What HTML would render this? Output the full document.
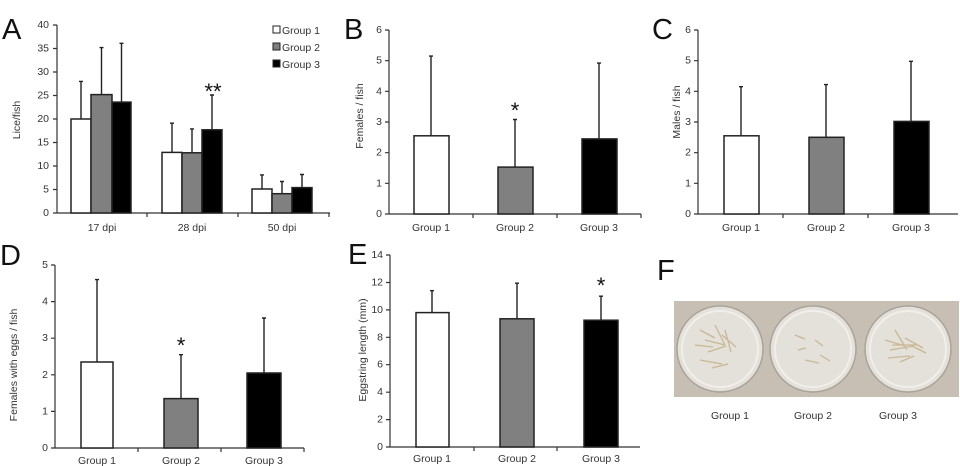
<!DOCTYPE html>
<html><head><meta charset="utf-8"><style>
html,body{margin:0;padding:0;background:#fff}
svg{display:block}
text{font-family:"Liberation Sans",Arial,sans-serif;fill:#333}
.t{font-size:10.5px}
.L{font-size:29px;fill:#111}
.ax{stroke:#333;stroke-width:1.2;fill:none}
.b{stroke:#222;stroke-width:1.5}
.e{stroke:#222;stroke-width:1.4}
</style></head><body>
<svg width="960" height="466" viewBox="0 0 960 466" xmlns="http://www.w3.org/2000/svg">
<!-- A -->
<text class="L" x="2" y="39">A</text>
<text class="t" x="20" y="120" transform="rotate(-90 20 120)" text-anchor="middle" font-size="11">Lice/fish</text>
<g class="t" text-anchor="end">
<text x="49" y="216">0</text><text x="49" y="192.5">5</text><text x="49" y="169">10</text><text x="49" y="145.5">15</text><text x="49" y="122">20</text><text x="49" y="98.5">25</text><text x="49" y="75">30</text><text x="49" y="51.5">35</text><text x="49" y="28">40</text>
</g>
<path class="ax" d="M57 25V213H330M53 213H57M53 189.5H57M53 166H57M53 142.5H57M53 119H57M53 95.5H57M53 72H57M53 48.5H57M53 25H57M147 213V217M238 213V217M329 213V217"/>
<g class="e">
<path d="M81 119V81.4M79 81.4H83M101.5 94.6V47.6M99.5 47.6H103.5M121.5 102.1V43.3M119.5 43.3H123.5"/>
<path d="M172 152.4V123.2M170 123.2H174M192 152.8V128.9M190 128.9H194M212 129.8V95M210 95H214"/>
<path d="M262 189V174.9M260 174.9H264M282 193.7V181.5M280 181.5H284M302 187.6V174.5M300 174.5H304"/>
</g>
<g class="b">
<rect x="71" y="119" width="20" height="94" fill="#fff"/><rect x="91" y="94.6" width="21" height="118.4" fill="#808080"/><rect x="112" y="102.1" width="19" height="110.9" fill="#000"/>
<rect x="162" y="152.4" width="20" height="60.6" fill="#fff"/><rect x="182" y="152.8" width="20" height="60.2" fill="#808080"/><rect x="202" y="129.8" width="20" height="83.2" fill="#000"/>
<rect x="252" y="189" width="20" height="24" fill="#fff"/><rect x="272" y="193.7" width="20" height="19.3" fill="#808080"/><rect x="292" y="187.6" width="20" height="25.4" fill="#000"/>
</g>
<text x="213" y="99" text-anchor="middle" font-size="22" style="fill:#111">**</text>
<g class="t" text-anchor="middle"><text x="102" y="231">17 dpi</text><text x="192" y="231">28 dpi</text><text x="282" y="231">50 dpi</text></g>
<rect x="273" y="26" width="7" height="7" fill="#fff" stroke="#222"/><rect x="273" y="43" width="7" height="7" fill="#808080" stroke="#222"/><rect x="273" y="60" width="7" height="7" fill="#000" stroke="#222"/>
<g class="t"><text x="282" y="34">Group 1</text><text x="282" y="51">Group 2</text><text x="282" y="68">Group 3</text></g>

<!-- B -->
<text class="L" x="344" y="39">B</text>
<text class="t" x="363" y="116" transform="rotate(-90 363 116)" text-anchor="middle" font-size="11">Females / fish</text>
<g class="t" text-anchor="end"><text x="382" y="217">0</text><text x="382" y="186.3">1</text><text x="382" y="155.7">2</text><text x="382" y="125">3</text><text x="382" y="94.3">4</text><text x="382" y="63.7">5</text><text x="382" y="33">6</text></g>
<path class="ax" d="M389 30V214H641M385 214H389M385 183.3H389M385 152.7H389M385 122H389M385 91.3H389M385 60.7H389M385 30H389M473 214V218M557 214V218M641 214V218"/>
<path class="e" d="M431 135.8V56.1M429 56.1H433M515 167.1V119.5M513 119.5H517M599 138.9V63.1M597 63.1H601"/>
<g class="b"><rect x="414" y="135.8" width="35" height="78.2" fill="#fff"/><rect x="498" y="167.1" width="35" height="46.9" fill="#808080"/><rect x="582" y="138.9" width="35" height="75.1" fill="#000"/></g>
<text x="515" y="118" text-anchor="middle" font-size="22" style="fill:#111">*</text>
<g class="t" text-anchor="middle"><text x="431" y="231">Group 1</text><text x="515" y="231">Group 2</text><text x="599" y="231">Group 3</text></g>

<!-- C -->
<text class="L" x="652" y="39">C</text>
<g transform="translate(-5,0)">
<text class="t" x="685" y="112" transform="rotate(-90 685 112)" text-anchor="middle" font-size="11">Males / fish</text>
<g class="t" text-anchor="end"><text x="696" y="217">0</text><text x="696" y="186.3">1</text><text x="696" y="155.7">2</text><text x="696" y="125">3</text><text x="696" y="94.3">4</text><text x="696" y="63.7">5</text><text x="696" y="33">6</text></g>
<path class="ax" d="M703 30V214H963M699 214H703M699 183.3H703M699 152.7H703M699 122H703M699 91.3H703M699 60.7H703M699 30H703M788 214V218M873 214V218"/>
<path class="e" d="M746 135.8V86.7M744 86.7H748M831 137.3V84.6M829 84.6H833M916 121.4V61.3M914 61.3H918"/>
<g class="b"><rect x="729" y="135.8" width="35" height="78.2" fill="#fff"/><rect x="814" y="137.3" width="35" height="76.7" fill="#808080"/><rect x="899" y="121.4" width="35" height="92.6" fill="#000"/></g>
<g class="t" text-anchor="middle"><text x="746" y="231">Group 1</text><text x="831" y="231">Group 2</text><text x="916" y="231">Group 3</text></g>
</g>

<!-- D -->
<text class="L" x="0" y="265">D</text>
<text class="t" x="17" y="365" transform="rotate(-90 17 365)" text-anchor="middle" font-size="11.5">Females with eggs / fish</text>
<g class="t" text-anchor="end"><text x="48" y="451">0</text><text x="48" y="414.4">1</text><text x="48" y="377.8">2</text><text x="48" y="341.2">3</text><text x="48" y="304.6">4</text><text x="48" y="268">5</text></g>
<path class="ax" d="M55 265V448H304M51 448H55M51 411.4H55M51 374.8H55M51 338.2H55M51 301.6H55M51 265H55M138 448V452M221 448V452M304 448V452"/>
<path class="e" d="M97 362V279.6M95 279.6H99M181 398.6V354.7M179 354.7H183M264 373V318M262 318H266"/>
<g class="b"><rect x="81" y="362" width="32" height="86" fill="#fff"/><rect x="164" y="398.6" width="34" height="49.4" fill="#808080"/><rect x="247" y="373" width="34" height="75" fill="#000"/></g>
<text x="181" y="353" text-anchor="middle" font-size="22" style="fill:#111">*</text>
<g class="t" text-anchor="middle"><text x="97" y="464">Group 1</text><text x="181" y="464">Group 2</text><text x="264" y="464">Group 3</text></g>

<!-- E -->
<text class="L" x="348" y="264">E</text>
<text class="t" x="366" y="350" transform="rotate(-90 366 350)" text-anchor="middle" font-size="11">Eggstring length (mm)</text>
<g class="t" text-anchor="end"><text x="383" y="450">0</text><text x="383" y="422.6">2</text><text x="383" y="395.2">4</text><text x="383" y="367.7">6</text><text x="383" y="340.3">8</text><text x="383" y="312.9">10</text><text x="383" y="285.5">12</text><text x="383" y="258">14</text></g>
<path class="ax" d="M390 255V447H640M386 447H390M386 419.6H390M386 392.2H390M386 364.7H390M386 337.3H390M386 309.9H390M386 282.5H390M386 255H390M474 447V451M557 447V451"/>
<path class="e" d="M432 312.6V290.7M430 290.7H434M517 318.8V283.2M515 283.2H519M601 320.2V296.2M599 296.2H603"/>
<g class="b"><rect x="416" y="312.6" width="33" height="134.4" fill="#fff"/><rect x="500" y="318.8" width="34" height="128.2" fill="#808080"/><rect x="584" y="320.2" width="34" height="126.8" fill="#000"/></g>
<text x="601" y="293" text-anchor="middle" font-size="22" style="fill:#111">*</text>
<g class="t" text-anchor="middle"><text x="432" y="462">Group 1</text><text x="517" y="462">Group 2</text><text x="601" y="462">Group 3</text></g>

<!-- F -->
<text class="L" x="657" y="280">F</text>
<rect x="674" y="301" width="285" height="96" fill="#c8bfb4"/>
<g fill="#e4e0da" stroke="#a9a39b" stroke-width="1.5">
<circle cx="720" cy="349" r="43"/><circle cx="813" cy="349" r="43"/><circle cx="908" cy="349" r="43"/>
</g>
<g fill="none" stroke="#f2efea" stroke-width="2"><circle cx="720" cy="349" r="38"/><circle cx="813" cy="349" r="38"/><circle cx="908" cy="349" r="38"/></g>
<g stroke="#c9b894" stroke-width="1.3" fill="none">
<path d="M700 330l15 8M705 340l20 5M708 352l18-6M715 325l10 20M722 335l14 12M700 360l22 4M712 368l16-4M725 330l6 22M695 345l18 2"/>
<path d="M795 335l10 4M815 340l8 6M805 360l14 3M820 355l10 6M798 350l8-2"/>
<path d="M885 340l20 6M890 350l24-4M895 330l12 20M905 338l18 10M888 358l22-2M910 345l16 8M900 362l14-6M892 345l26 0"/>
</g>
<g class="t" text-anchor="middle"><text x="730" y="419">Group 1</text><text x="813" y="419">Group 2</text><text x="898" y="419">Group 3</text></g>
</svg>
</body></html>
